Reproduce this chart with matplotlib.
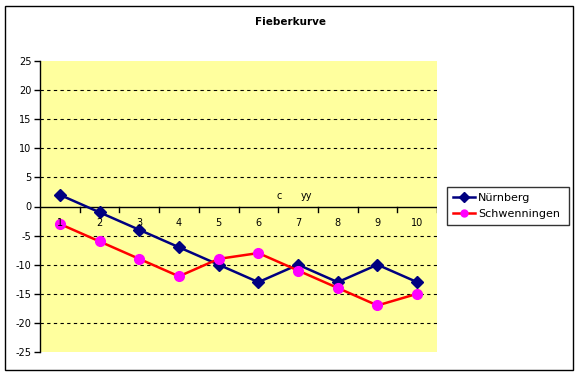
import numpy as np
import matplotlib
matplotlib.use("Agg")
import matplotlib.pyplot as plt
from matplotlib.patches import Rectangle

# Daten
tage = [1, 2, 3, 4, 5, 6, 7, 8, 9, 10]
nuernberg = [2, -1, -4, -7, -10, -13, -10, -13, -10, -13]
schwenningen = [-3, -6, -9, -12, -9, -8, -11, -14, -17, -15]
y_ticks = [-25, -20, -15, -10, -5, 0, 5, 10, 15, 20, 25]

plt.rcParams['font.family'] = ['DejaVu Sans']

fig = plt.figure(figsize=(5.8, 3.76), dpi=100)
fig.patch.set_facecolor('white')
# Rahmen um das ganze Diagramm
fig.patches.append(Rectangle((5/580, 6/376), 568/580, 364/376, transform=fig.transFigure,
                             fill=False, edgecolor='black', linewidth=1))

ax = fig.add_axes([40/580, 1 - 352/376, 397/580, 291/376])
ax.set_facecolor('#FFFF9E')

x = np.arange(len(tage))
ax.plot(x, nuernberg, color='#000080', marker='D', markersize=6, linewidth=1.8,
        markerfacecolor='#000080', markeredgecolor='#000080', label='Nürnberg')
ax.plot(x, schwenningen, color='#FF0000', marker='o', markersize=7, linewidth=1.8,
        markerfacecolor='#FF00FF', markeredgecolor='#FF00FF', label='Schwenningen')

ax.set_xlim(-0.5, len(tage) - 0.5)
ax.set_ylim(-25, 25)
ax.set_yticks(y_ticks)
ax.set_yticklabels([str(v) for v in y_ticks], fontsize=7)
ax.tick_params(axis='y', length=4, width=1, pad=2)

for v in y_ticks:
    if v not in (0, 25, -25):
        ax.axhline(v, color='black', linestyle=(0, (3, 3)), linewidth=0.8, zorder=0)

# x-Achse liegt bei y = 0
ax.axhline(0, color='black', linewidth=1, zorder=1)
ax.set_xticks([])
for b in np.arange(0.5, len(tage) - 0.5 + 1e-9, 1.0):
    ax.plot([b, b], [0, -0.9], color='black', linewidth=1, zorder=1)
for xi, t in zip(x, tage):
    ax.text(xi, -1.9, str(t), ha='center', va='top', fontsize=7)

ax.text(5.52, 1.0, 'c', ha='center', va='bottom', fontsize=7)
ax.text(6.2, 1.0, 'yy', ha='center', va='bottom', fontsize=7)

for s in ['top', 'right', 'bottom']:
    ax.spines[s].set_visible(False)
ax.spines['left'].set_linewidth(1)

fig.text(290/580, 1 - 22/376, 'Fieberkurve', ha='center', va='center',
         fontsize=7.5, fontweight='bold')

leg = ax.legend(loc='center', bbox_to_anchor=(447/580, 1 - 228/376, 122/580, 44/376),
                bbox_transform=fig.transFigure, mode='expand', fontsize=8,
                frameon=True, fancybox=False, handlelength=2.0, borderaxespad=0,
                borderpad=0.5, labelspacing=0.6, handletextpad=0.3)
leg.get_frame().set_edgecolor('black')
leg.get_frame().set_linewidth(1)
for h in leg.legend_handles:
    h.set_markersize(5)

fig.savefig('out.png', dpi=100)
